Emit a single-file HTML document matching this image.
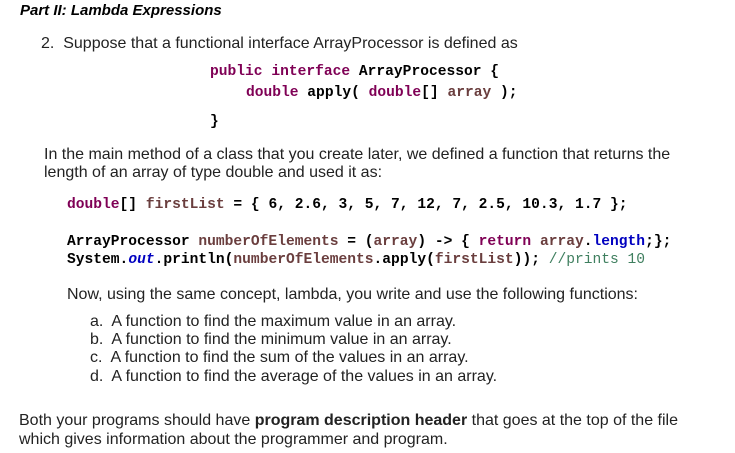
<!DOCTYPE html>
<html><head><meta charset="utf-8"><style>
body{margin:0;width:735px;height:453px;background:#fff;position:relative;overflow:hidden;font-family:"Liberation Sans",Arial,sans-serif;color:#222;}
.t{position:absolute;white-space:nowrap;font-size:16px;line-height:18px;}
.c{position:absolute;white-space:nowrap;font-family:"Liberation Mono",monospace;font-weight:bold;font-size:14.6px;line-height:18px;color:#000;}
.k{color:#7f0055}.v{color:#6a3e3e}.f{color:#0000c0}.cm{color:#3f7f5f;font-weight:normal}
</style></head><body>
<div class="t" style="left:20px;top:2px;font-weight:bold;font-style:italic;font-size:15px;color:#000">Part II: Lambda Expressions</div>
<div class="t" style="left:41px;top:35px">2.&nbsp; Suppose that a functional interface ArrayProcessor is defined as</div>
<div class="c" style="left:210px;top:63px"><span class="k">public</span> <span class="k">interface</span> ArrayProcessor {</div>
<div class="c" style="left:246px;top:84px"><span class="k">double</span> apply( <span class="k">double</span>[] <span class="v">array</span> );</div>
<div class="c" style="left:210px;top:113px">}</div>
<div class="t" style="left:44px;top:146px">In the main method of a class that you create later, we defined a function that returns the</div>
<div class="t" style="left:44px;top:164px">length of an array of type double and used it as:</div>
<div class="c" style="left:67px;top:196px"><span class="k">double</span>[] <span class="v">firstList</span> = { 6, 2.6, 3, 5, 7, 12, 7, 2.5, 10.3, 1.7 };</div>
<div class="c" style="left:67px;top:233px">ArrayProcessor <span class="v">numberOfElements</span> = (<span class="v">array</span>) -&gt; { <span class="k">return</span> <span class="v">array</span>.<span class="f">length</span>;};</div>
<div class="c" style="left:67px;top:251px">System.<i class="f">out</i>.println(<span class="v">numberOfElements</span>.apply(<span class="v">firstList</span>)); <span class="cm">//prints 10</span></div>
<div class="t" style="left:67px;top:286px">Now, using the same concept, lambda, you write and use the following functions:</div>
<div class="t" style="left:90px;top:313px">a.&nbsp; A function to find the maximum value in an array.</div>
<div class="t" style="left:90px;top:331px">b.&nbsp; A function to find the minimum value in an array.</div>
<div class="t" style="left:90px;top:349px">c.&nbsp; A function to find the sum of the values in an array.</div>
<div class="t" style="left:90px;top:368px">d.&nbsp; A function to find the average of the values in an array.</div>
<div class="t" style="left:19px;top:412px">Both your programs should have <b>program description header</b> that goes at the top of the file</div>
<div class="t" style="left:19px;top:431px">which gives information about the programmer and program.</div>
</body></html>
